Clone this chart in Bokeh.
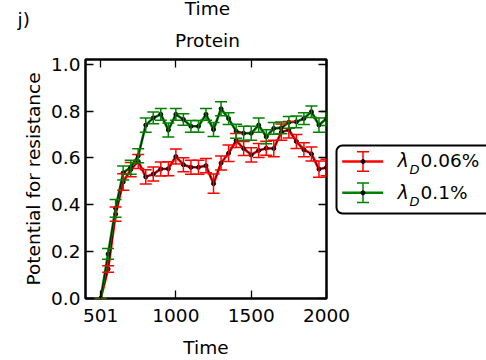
from bokeh.plotting import figure
from bokeh.models import (Range1d, FixedTicker, LinearAxis, Whisker, TeeHead,
                          ColumnDataSource, PrintfTickFormatter)
from bokeh.layouts import row
from bokeh.embed import file_html
from bokeh.resources import INLINE
from bokeh.core.properties import value

# ---------------- data ----------------
time = [501, 550, 600, 650, 700, 750, 800, 850, 900, 950, 1000, 1050, 1100, 1150,
        1200, 1250, 1300, 1350, 1400, 1450, 1500, 1550, 1600, 1650, 1700, 1750,
        1800, 1850, 1900, 1950, 2000]
lam_006 = [0.0, 0.126, 0.36, 0.497, 0.55, 0.585, 0.519, 0.531, 0.553, 0.554, 0.606,
           0.571, 0.56, 0.56, 0.567, 0.49, 0.578, 0.62, 0.674, 0.64, 0.613, 0.632,
           0.641, 0.64, 0.71, 0.72, 0.67, 0.635, 0.617, 0.552, 0.559]
err_006 = [0.0, 0.014, 0.03, 0.035, 0.03, 0.03, 0.03, 0.03, 0.03, 0.03, 0.032, 0.03,
           0.03, 0.03, 0.03, 0.041, 0.03, 0.035, 0.03, 0.03, 0.03, 0.03, 0.03, 0.035,
           0.035, 0.035, 0.03, 0.03, 0.03, 0.035, 0.035]
lam_01 = [0.0, 0.19, 0.385, 0.536, 0.56, 0.609, 0.74, 0.771, 0.786, 0.719, 0.786,
          0.764, 0.735, 0.735, 0.786, 0.721, 0.81, 0.768, 0.714, 0.705, 0.705, 0.74,
          0.69, 0.726, 0.728, 0.752, 0.754, 0.768, 0.797, 0.74, 0.768]
err_01 = [0.0, 0.023, 0.038, 0.03, 0.03, 0.03, 0.03, 0.025, 0.025, 0.03, 0.025, 0.025,
          0.025, 0.025, 0.025, 0.03, 0.03, 0.025, 0.03, 0.03, 0.03, 0.03, 0.03, 0.025,
          0.025, 0.025, 0.025, 0.025, 0.025, 0.03, 0.03]
series_values = ["0.06%", "0.1%"]
x_ticks = [501, 1000, 1500, 2000]
y_ticks = [0.0, 0.2, 0.4, 0.6, 0.8, 1.0]
panel_label = "j)"
top_text = "Time"
title_text = "Protein"

# ---------------- style ----------------
FONT = "DejaVu Sans"
FS = "18.5px"
RED = "#ff0000"
GREEN = "#008000"
TXT_SHIFT = -7

p = figure(width=352, height=360, x_range=Range1d(400, 2000), y_range=Range1d(0, 1.02),
           output_backend="svg", toolbar_location=None, title_location=None,
           min_border_left=85, min_border_right=26, min_border_top=59, min_border_bottom=59)
p.frame_align = False
p.grid.visible = False
p.outline_line_color = "black"
p.outline_line_width = 2.5
p.background_fill_color = "white"
p.border_fill_color = "white"


def style_axis(ax, show_labels):
    ax.major_tick_in = 8
    ax.major_tick_out = 0
    ax.major_tick_line_color = "black"
    ax.major_tick_line_width = 1.3
    ax.minor_tick_line_color = None
    ax.axis_line_color = None
    if show_labels:
        ax.major_label_text_font = FONT
        ax.major_label_text_font_size = FS
        ax.major_label_text_color = "black"
        ax.axis_label_text_font = FONT
        ax.axis_label_text_font_size = FS
        ax.axis_label_text_font_style = "normal"
        ax.axis_label_text_color = "black"
    else:
        ax.major_label_text_color = None
        ax.major_label_text_font_size = "10px"
        ax.major_label_standoff = 0


xa = p.below[0]
xa.ticker = FixedTicker(ticks=x_ticks)
xa.axis_label = "Time"
xa.major_label_standoff = 10
xa.axis_label_standoff = 12
style_axis(xa, True)

ya = p.left[0]
ya.ticker = FixedTicker(ticks=y_ticks)
ya.formatter = PrintfTickFormatter(format="%.1f")
ya.axis_label = "Potential for resistance"
ya.major_label_standoff = 5
ya.axis_label_standoff = 4
style_axis(ya, True)

top_ax = LinearAxis(ticker=FixedTicker(ticks=x_ticks))
style_axis(top_ax, False)
p.add_layout(top_ax, "above")
right_ax = LinearAxis(ticker=FixedTicker(ticks=y_ticks))
style_axis(right_ax, False)
p.add_layout(right_ax, "right")

for ys, es, col in [(lam_006, err_006, RED), (lam_01, err_01, GREEN)]:
    src = ColumnDataSource(dict(x=time, y=ys,
                                lo=[a - b for a, b in zip(ys, es)],
                                hi=[a + b for a, b in zip(ys, es)]))
    w = Whisker(base="x", upper="hi", lower="lo", source=src, dimension="height",
                line_color=col, line_width=1.5, level="glyph",
                upper_head=TeeHead(size=12, line_color=col, line_width=1.5),
                lower_head=TeeHead(size=12, line_color=col, line_width=1.5))
    p.add_layout(w)
    p.line("x", "y", source=src, line_color=col, line_width=2.6)
    p.line("x", "y", source=src, line_color="black", line_width=0.8)
    p.scatter("x", "y", source=src, size=4, color="black")

# ---------------- overlay: page texts + legend (pixel coordinates) ----------------
q = figure(width=486, height=360, x_range=Range1d(0, 486), y_range=Range1d(360, 0),
           output_backend="svg", toolbar_location=None, x_axis_type=None, y_axis_type=None,
           title_location=None, min_border=0, margin=(0, 0, 0, -352))
q.frame_align = False
q.outline_line_color = None
q.background_fill_color = None
q.border_fill_color = None
q.grid.visible = False

q.text(x=[207, 207, 17], y=[15, 46.5, 26], text=[top_text, title_text, panel_label],
       text_align=["center", "center", "left"], text_font=value(FONT),
       text_font_size=FS, text_baseline="alphabetic", text_color="black", y_offset=TXT_SHIFT)

q.quad(left=[336], right=[520], top=[145], bottom=[213], fill_color="white",
       line_color="black", line_width=2, border_radius=6)

rows_y = [161, 192.3]
for k, (col, name) in enumerate(zip([RED, GREEN], series_values)):
    yc = rows_y[k]
    q.line([341.7, 382.7], [yc, yc], line_color=col, line_width=2.6)
    q.segment(x0=[362.5], y0=[yc - 9.7], x1=[362.5], y1=[yc + 9.7], line_color=col, line_width=1.5)
    q.segment(x0=[356.5, 356.5], y0=[yc - 9.7, yc + 9.7], x1=[368.5, 368.5],
              y1=[yc - 9.7, yc + 9.7], line_color=col, line_width=1.5)
    q.scatter([362.5], [yc], size=4, color="black")
    base = yc + 6.3
    q.text(x=[397.3], y=[base], text=["λ"], text_font=value(FONT), text_font_style="italic",
           text_font_size=FS, text_baseline="alphabetic", text_color="black", y_offset=TXT_SHIFT)
    q.text(x=[409], y=[base + 7], text=["D"], text_font=value(FONT), text_font_style="italic",
           text_font_size="13px", text_baseline="alphabetic", text_color="black",
           y_offset=TXT_SHIFT + 2)
    q.text(x=[420], y=[base], text=[name], text_font=value(FONT),
           text_font_size=FS, text_baseline="alphabetic", text_color="black", y_offset=TXT_SHIFT)

layout = row(p, q)
open("out.html", "w").write(file_html(layout, INLINE))
